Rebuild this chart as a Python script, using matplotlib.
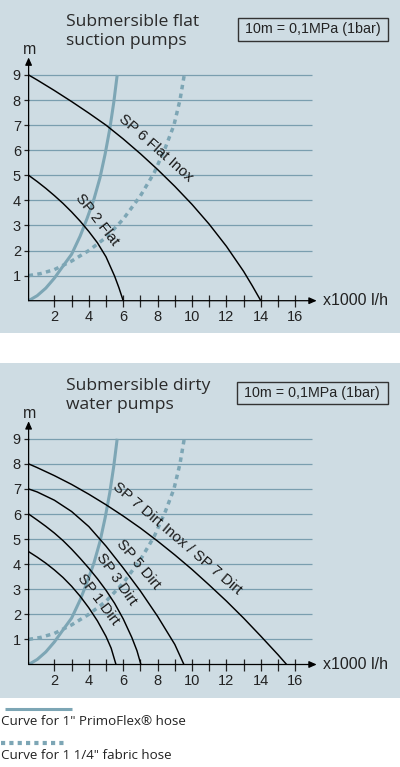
import math
import matplotlib
matplotlib.use('Agg')
import matplotlib.pyplot as plt
from matplotlib.patches import Rectangle
from matplotlib.lines import Line2D

# ---------------- data ----------------
x_major_ticks = [2, 4, 6, 8, 10, 12, 14, 16]
x_tick_labels = ['2', '4', '6', '8', '10', '12', '14', '16']
x_minor_ticks = [3, 5, 7, 9, 11, 13, 15]
y_ticks = [1, 2, 3, 4, 5, 6, 7, 8, 9]
y_tick_labels = ['1', '2', '3', '4', '5', '6', '7', '8', '9']

# hose resistance curves (same in both panels)
hose_primoflex_x = [0.5, 1.0, 1.5, 2.0, 2.5, 3.0, 3.5, 3.9, 4.3, 4.65, 4.95, 5.22, 5.45, 5.65]
hose_primoflex_y = [0.0, 0.2, 0.5, 0.9, 1.38, 1.85, 2.58, 3.28, 4.05, 4.9, 5.85, 6.85, 7.9, 9.0]
hose_fabric_x = [0.5, 1.2, 2.0, 3.0, 4.0, 5.0, 6.0, 7.0, 7.8, 8.45, 8.95, 9.3, 9.55]
hose_fabric_y = [1.0, 1.08, 1.24, 1.58, 2.0, 2.52, 3.25, 4.18, 5.1, 6.1, 7.0, 8.0, 9.0]

# panel 1: submersible flat suction pumps
sp6_flat_inox_x = [0.5, 1, 2, 3, 4, 5, 6, 7, 8, 9, 10, 11, 12, 13, 13.5, 14]
sp6_flat_inox_y = [9.0, 8.8, 8.38, 7.94, 7.48, 7.0, 6.45, 5.86, 5.23, 4.56, 3.84, 3.05, 2.17, 1.17, 0.6, 0.0]
sp2_flat_x = [0.5, 1, 1.5, 2, 2.5, 3, 3.5, 4, 4.5, 5, 5.5, 5.75, 6.0]
sp2_flat_y = [5.0, 4.75, 4.48, 4.19, 3.88, 3.54, 3.17, 2.76, 2.31, 1.75, 0.98, 0.52, 0.0]

# panel 2: submersible dirty water pumps
sp7_dirt_x = [0.5, 1, 2, 3, 4, 5, 6, 7, 8, 9, 10, 11, 12, 13, 14, 15, 15.5]
sp7_dirt_y = [8.0, 7.85, 7.53, 7.18, 6.79, 6.37, 5.92, 5.44, 4.92, 4.37, 3.79, 3.17, 2.53, 1.85, 1.13, 0.39, 0.0]
sp5_dirt_x = [0.5, 1, 2, 3, 4, 5, 6, 7, 8, 9, 9.53]
sp5_dirt_y = [7.0, 6.88, 6.55, 6.1, 5.5, 4.72, 3.85, 2.93, 1.92, 0.8, 0.0]
sp3_dirt_x = [0.5, 1, 1.5, 2, 2.5, 3, 3.5, 4, 4.5, 5, 5.5, 6, 6.5, 6.8, 7.03]
sp3_dirt_y = [6.0, 5.76, 5.51, 5.24, 4.94, 4.6, 4.23, 3.84, 3.42, 2.96, 2.44, 1.82, 1.08, 0.55, 0.0]
sp1_dirt_x = [0.5, 1, 1.5, 2, 2.5, 3, 3.5, 4, 4.5, 5, 5.3, 5.58]
sp1_dirt_y = [4.5, 4.28, 4.04, 3.77, 3.47, 3.12, 2.72, 2.26, 1.74, 1.12, 0.65, 0.0]

panel1_title = "Submersible flat\nsuction pumps"
panel2_title = "Submersible dirty\nwater pumps"
pressure_note = "10m = 0,1MPa (1bar)"
x_unit = "x1000 l/h"
y_unit = "m"
legend_labels = ['Curve for 1" PrimoFlex® hose', 'Curve for 1 1/4" fabric hose']

# ---------------- drawing ----------------
W, H = 400, 767
fig = plt.figure(figsize=(W / 100, H / 100), dpi=100)
fig.patch.set_facecolor('white')

BG = '#cedce3'
GRID = '#7a9eaf'
HOSE = '#7da6b5'
SANS = ['Liberation Sans', 'DejaVu Sans']
TITLEF = ['Open Sans', 'DejaVu Sans']


def fx(px):
    return px / W


def fy(py):
    return 1 - py / H


# panel backgrounds (drawn below the axes)
fig.patches.append(Rectangle((0, fy(333)), 1, 333 / H, transform=fig.transFigure,
                             facecolor=BG, edgecolor='none', zorder=-10))
fig.patches.append(Rectangle((0, fy(698)), 1, (698 - 363) / H, transform=fig.transFigure,
                             facecolor=BG, edgecolor='none', zorder=-10))

SX, SY, X0PX = 17.2, 25.08, 20.0
XMIN, XMAX, YMAX = 0.5, 17.3, 9.8


def make_axes(y0px, title, title_top, box):
    left = X0PX + SX * XMIN
    right = X0PX + SX * XMAX
    ax = fig.add_axes([fx(left), fy(y0px), (right - left) / W, SY * YMAX / H])
    ax.set_xlim(XMIN, XMAX)
    ax.set_ylim(0, YMAX)
    ax.patch.set_alpha(0)
    for s in ax.spines.values():
        s.set_visible(False)
    ax.hlines(y_ticks, XMIN, 16.95, colors=GRID, lw=0.9, zorder=1)
    # axes with arrows
    ax.annotate('', xy=(XMAX - 0.05, 0), xytext=(XMIN, 0),
                arrowprops=dict(arrowstyle='-|>,head_length=0.45,head_width=0.2', color='k',
                                lw=0.9, shrinkA=0, shrinkB=0), annotation_clip=False, zorder=5)
    ax.annotate('', xy=(XMIN, 9.7), xytext=(XMIN, 0),
                arrowprops=dict(arrowstyle='-|>,head_length=0.45,head_width=0.2', color='k',
                                lw=0.9, shrinkA=0, shrinkB=0), annotation_clip=False, zorder=5)
    ax.set_xticks(x_major_ticks)
    ax.set_xticklabels(x_tick_labels)
    ax.set_xticks(x_minor_ticks, minor=True)
    ax.set_yticks(y_ticks)
    ax.set_yticklabels(y_tick_labels)
    ax.tick_params(axis='x', which='both', direction='inout', length=8, width=0.9,
                   pad=2.5, labelsize=10.5, colors='#222222')
    ax.tick_params(axis='y', direction='out', length=3.5, width=0.9, pad=2,
                   labelsize=10.5, colors='#222222')
    for lab in ax.get_xticklabels() + ax.get_yticklabels():
        lab.set_family(SANS)
    ax.text(XMAX + 0.3, 0, x_unit, ha='left', va='center', fontsize=11.5,
            family=SANS, color='#222222', clip_on=False)
    ax.text(0.58, 10.0, y_unit, ha='center', va='center', fontsize=11.5,
            family=SANS, color='#222222', clip_on=False)
    # title
    fig.text(fx(66), fy(title_top), title, ha='left', va='top', fontsize=12.6,
             family=TITLEF, color='#2a2a2a', linespacing=1.22)
    # pressure box
    bx0, by0, bx1, by1 = box
    fig.patches.append(Rectangle((fx(bx0), fy(by1)), (bx1 - bx0) / W, (by1 - by0) / H,
                                 transform=fig.transFigure, facecolor='none',
                                 edgecolor='#333333', lw=1.0, zorder=3))
    fig.text(fx((bx0 + bx1) / 2), fy((by0 + by1) / 2), pressure_note, ha='center',
             va='center', fontsize=10.3, family=SANS, color='#222222')
    # hose curves
    ax.plot(hose_primoflex_x, hose_primoflex_y, color=HOSE, lw=2.2, zorder=2,
            solid_capstyle='butt', solid_joinstyle='round')
    ax.plot(hose_fabric_x, hose_fabric_y, color=HOSE, lw=2.5, zorder=2,
            linestyle=(0, (1.3, 1.25)), dash_capstyle='butt')
    return ax


def label(ax, x, y, s, rot, off=4.0):
    # shift the label a little away from its curve, perpendicular to the text
    r = math.radians(rot)
    ox, oy = -math.sin(r) * off, math.cos(r) * off
    ax.annotate(s, xy=(x, y), xytext=(ox, oy), textcoords='offset points',
                rotation=rot, rotation_mode='anchor', ha='center', va='center',
                fontsize=10.8, family=SANS, color='#1a1a1a', zorder=6)


# ---- panel 1
ax1 = make_axes(300.7, panel1_title, 14, (238, 18.3, 388, 40.7))
ax1.plot(sp6_flat_inox_x, sp6_flat_inox_y, color='k', lw=1.05, zorder=4)
ax1.plot(sp2_flat_x, sp2_flat_y, color='k', lw=1.05, zorder=4)
label(ax1, 7.66, 5.93, 'SP 6 Flat Inox', -41.5)
label(ax1, 4.24, 3.08, 'SP 2 Flat', -52)

# ---- panel 2
ax2 = make_axes(664.5, panel2_title, 378, (236.7, 381.7, 387.7, 404))
ax2.plot(sp7_dirt_x, sp7_dirt_y, color='k', lw=1.05, zorder=4)
ax2.plot(sp5_dirt_x, sp5_dirt_y, color='k', lw=1.05, zorder=4)
ax2.plot(sp3_dirt_x, sp3_dirt_y, color='k', lw=1.05, zorder=4)
ax2.plot(sp1_dirt_x, sp1_dirt_y, color='k', lw=1.05, zorder=4)
label(ax2, 8.95, 4.85, 'SP 7 Dirt Inox / SP 7 Dirt', -40.5)
label(ax2, 6.64, 3.86, 'SP 5 Dirt', -50)
label(ax2, 5.32, 3.26, 'SP 3 Dirt', -55)
label(ax2, 4.28, 2.47, 'SP 1 Dirt', -53)

# ---- legend
fig.lines.append(Line2D([fx(5), fx(72)], [fy(709.3), fy(709.3)], transform=fig.transFigure,
                        color=HOSE, lw=2.2, solid_capstyle='butt'))
fig.text(fx(1), fy(721.5), legend_labels[0], ha='left', va='center', fontsize=9.6,
         family=TITLEF, color='#222222')
fig.lines.append(Line2D([fx(1), fx(66)], [fy(742.7), fy(742.7)], transform=fig.transFigure,
                        color=HOSE, lw=3.0, linestyle=(0, (1.0, 1.0)), dash_capstyle='butt'))
fig.text(fx(1), fy(755.5), legend_labels[1], ha='left', va='center', fontsize=9.6,
         family=TITLEF, color='#222222')

fig.savefig('out.png', dpi=100, facecolor='white')
